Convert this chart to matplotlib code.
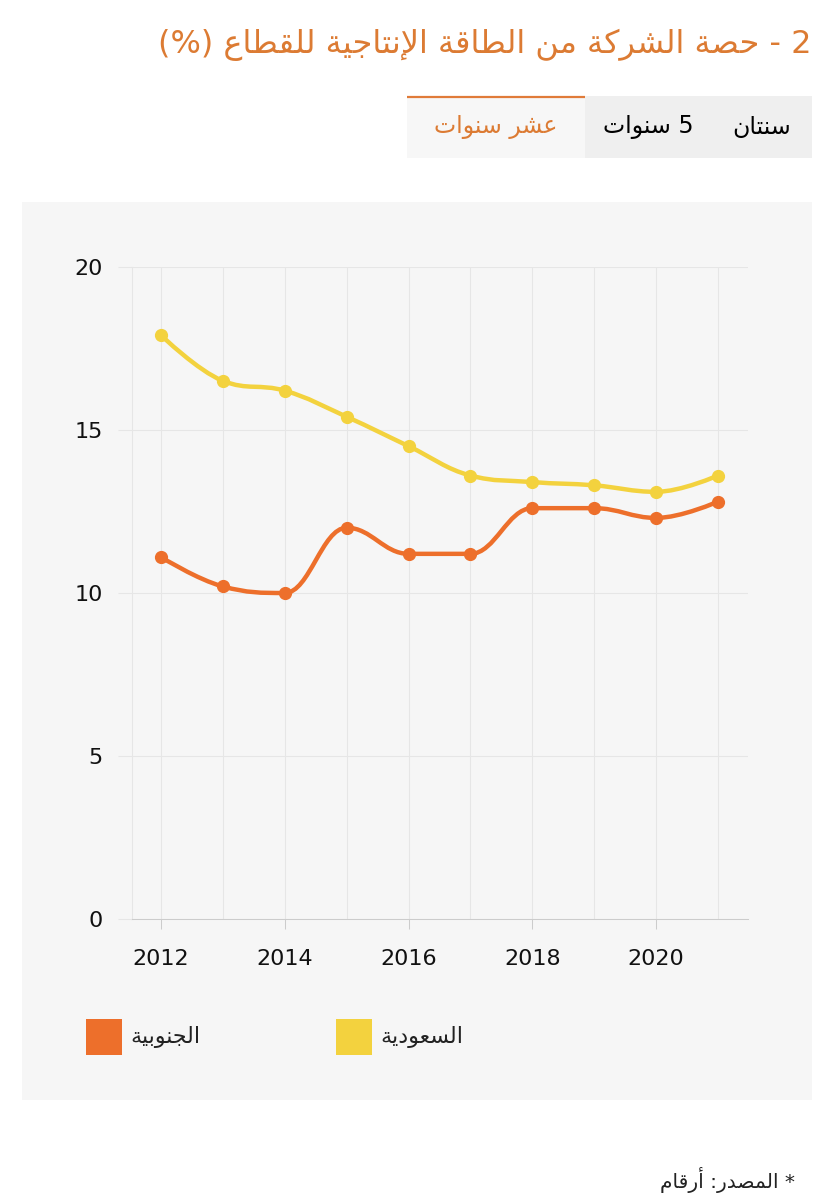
import numpy as np
import matplotlib
matplotlib.use('Agg')
import matplotlib.pyplot as plt
from matplotlib.patches import Rectangle, PathPatch
from matplotlib.path import Path

##########################################
## Data
##########################################
years = [2012, 2013, 2014, 2015, 2016, 2017, 2018, 2019, 2020, 2021]
saudi = [17.9, 16.5, 16.2, 15.4, 14.5, 13.6, 13.4, 13.3, 13.1, 13.6]
south = [11.1, 10.2, 10.0, 12.0, 11.2, 11.2, 12.6, 12.6, 12.3, 12.8]
series_names = ['الجنوبية', 'السعودية']
y_ticks = [0, 5, 10, 15, 20]
x_ticks = [2012, 2014, 2016, 2018, 2020]

title = '2 - حصة الشركة من الطاقة الإنتاجية للقطاع (%)'
tabs = ['عشر سنوات', '5 سنوات', 'سنتان']
source = '* المصدر: أرقام'

orange = '#ed6f2b'
yellow = '#f3d23e'
title_color = '#dc7b33'

##########################################
## Minimal Arabic shaping (matplotlib does no shaping / bidi)
##########################################
forms = {
    'ا': ('\uFE8D', '\uFE8E', None, None),
    'أ': ('\uFE83', '\uFE84', None, None),
    'إ': ('\uFE87', '\uFE88', None, None),
    'ب': ('\uFE8F', '\uFE90', '\uFE91', '\uFE92'),
    'ة': ('\uFE93', '\uFE94', None, None),
    'ت': ('\uFE95', '\uFE96', '\uFE97', '\uFE98'),
    'ج': ('\uFE9D', '\uFE9E', '\uFE9F', '\uFEA0'),
    'ح': ('\uFEA1', '\uFEA2', '\uFEA3', '\uFEA4'),
    'د': ('\uFEA9', '\uFEAA', None, None),
    'ر': ('\uFEAD', '\uFEAE', None, None),
    'س': ('\uFEB1', '\uFEB2', '\uFEB3', '\uFEB4'),
    'ش': ('\uFEB5', '\uFEB6', '\uFEB7', '\uFEB8'),
    'ص': ('\uFEB9', '\uFEBA', '\uFEBB', '\uFEBC'),
    'ط': ('\uFEC1', '\uFEC2', '\uFEC3', '\uFEC4'),
    'ع': ('\uFEC9', '\uFECA', '\uFECB', '\uFECC'),
    'ق': ('\uFED5', '\uFED6', '\uFED7', '\uFED8'),
    'ك': ('\uFED9', '\uFEDA', '\uFEDB', '\uFEDC'),
    'ل': ('\uFEDD', '\uFEDE', '\uFEDF', '\uFEE0'),
    'م': ('\uFEE1', '\uFEE2', '\uFEE3', '\uFEE4'),
    'ن': ('\uFEE5', '\uFEE6', '\uFEE7', '\uFEE8'),
    'و': ('\uFEED', '\uFEEE', None, None),
    'ي': ('\uFEF1', '\uFEF2', '\uFEF3', '\uFEF4'),
}
lam_alef = {'ا': ('\uFEFB', '\uFEFC'), 'أ': ('\uFEF7', '\uFEF8'), 'إ': ('\uFEF9', '\uFEFA')}


def ar(text):
    # merge lam + alef into ligature tokens
    tokens = []
    i = 0
    while i < len(text):
        c = text[i]
        if c == 'ل' and i + 1 < len(text) and text[i + 1] in lam_alef:
            tokens.append(('LA', text[i + 1]))
            i += 2
        else:
            tokens.append(('C', c))
            i += 1

    def is_ar(t):
        return t[0] == 'LA' or t[1] in forms

    def dual(t):
        return t[0] == 'C' and t[1] in forms and forms[t[1]][2] is not None

    out = []
    for k, t in enumerate(tokens):
        prev_j = k > 0 and dual(tokens[k - 1]) and is_ar(t)
        if t[0] == 'LA':
            out.append(lam_alef[t[1]][1 if prev_j else 0])
            continue
        c = t[1]
        if c not in forms:
            out.append(c)
            continue
        next_j = dual(t) and k + 1 < len(tokens) and is_ar(tokens[k + 1])
        f = forms[c]
        if prev_j and next_j:
            out.append(f[3])
        elif prev_j:
            out.append(f[1])
        elif next_j:
            out.append(f[2])
        else:
            out.append(f[0])
    s = ''.join(out)[::-1]
    return s.translate(str.maketrans('()', ')('))


##########################################
## Highcharts-like spline path
##########################################
def spline_path(x, y, smoothing=1.5):
    x = np.asarray(x, float)
    y = np.asarray(y, float)
    n = len(x)
    verts = [(x[0], y[0])]
    codes = [Path.MOVETO]
    left = [None] * n
    right = [None] * n
    right[0] = (x[0], y[0])
    left[-1] = (x[-1], y[-1])
    d = smoothing + 1
    for i in range(1, n - 1):
        lcx = (smoothing * x[i] + x[i - 1]) / d
        lcy = (smoothing * y[i] + y[i - 1]) / d
        rcx = (smoothing * x[i] + x[i + 1]) / d
        rcy = (smoothing * y[i] + y[i + 1]) / d
        if rcx != lcx:
            corr = (rcy - lcy) * (rcx - x[i]) / (rcx - lcx) + y[i] - rcy
            lcy += corr
            rcy += corr
        if lcy > y[i - 1] and lcy > y[i]:
            lcy = max(y[i - 1], y[i]); rcy = 2 * y[i] - lcy
        elif lcy < y[i - 1] and lcy < y[i]:
            lcy = min(y[i - 1], y[i]); rcy = 2 * y[i] - lcy
        if rcy > y[i + 1] and rcy > y[i]:
            rcy = max(y[i + 1], y[i]); lcy = 2 * y[i] - rcy
        elif rcy < y[i + 1] and rcy < y[i]:
            rcy = min(y[i + 1], y[i]); lcy = 2 * y[i] - rcy
        left[i] = (lcx, lcy)
        right[i] = (rcx, rcy)
    for i in range(1, n):
        verts += [right[i - 1], left[i], (x[i], y[i])]
        codes += [Path.CURVE4] * 3
    return Path(verts, codes)


##########################################
## Figure
##########################################
plt.rcParams['font.family'] = ['DejaVu Sans']
fig = plt.figure(figsize=(8.34, 12), dpi=100)
fig.patch.set_facecolor('white')

# background / layout layer in pixel coords
bg = fig.add_axes([0, 0, 1, 1])
bg.set_xlim(0, 834)
bg.set_ylim(1200, 0)
bg.axis('off')

bg.text(812, 45, ar(title), color=title_color, fontsize=23, ha='right', va='center')

# tabs
bg.add_patch(Rectangle((585, 96), 227, 62, color='#efefef', lw=0))
bg.add_patch(Rectangle((407, 96), 178, 62, color='#f7f7f7', lw=0))
bg.plot([407, 585], [96.5, 96.5], color='#e07b39', lw=1.6, solid_capstyle='butt')
bg.text(496, 127, ar(tabs[0]), color=title_color, fontsize=17, ha='center', va='center')
bg.text(648, 127, ar(tabs[1]), color='black', fontsize=17, ha='center', va='center')
bg.text(762, 127, ar(tabs[2]), color='black', fontsize=17, ha='center', va='center')

# chart panel
bg.add_patch(Rectangle((22, 202), 790, 898, color='#f6f6f6', lw=0))

# legend
for x0, name, col in zip([86, 336], series_names, [orange, yellow]):
    bg.add_patch(Rectangle((x0, 1019), 36, 36, color=col, lw=0))
    bg.text(x0 + 44, 1037, ar(name), fontsize=16, ha='left', va='center', color='#222222')

# source
bg.text(795, 1180, ar(source), fontsize=14.5, ha='right', va='center', color='#222222')

# chart axes
ax = fig.add_axes([132 / 834, 1 - 919.3 / 1200, 616 / 834, (919.3 - 266.7) / 1200])
ax.set_facecolor('none')
ax.set_xlim(2011.531, 2021.485)
ax.set_ylim(0, 20)

ax.set_yticks(y_ticks)
ax.set_xticks(x_ticks)
ax.set_xticks(years, minor=True)
ax.grid(axis='x', which='both', color='#e6e6e6', lw=0.75)
ax.grid(axis='y', which='major', color='#e6e6e6', lw=0.75)
ax.set_axisbelow(True)
ax.tick_params(axis='y', length=10, color='#e6e6e6', width=0.75, pad=11, labelsize=16, labelcolor='#111111')
ax.tick_params(axis='x', which='major', length=7.5, color='#cccccc', width=0.75, pad=14, labelsize=16, labelcolor='#111111')
ax.tick_params(axis='x', which='minor', length=0)
for s in ['top', 'right']:
    ax.spines[s].set_visible(False)
ax.spines['left'].set_color('#e6e6e6')
ax.spines['left'].set_linewidth(0.75)
ax.spines['bottom'].set_color('#cccccc')
ax.spines['bottom'].set_linewidth(0.75)

for vals, col in zip([saudi, south], [yellow, orange]):
    ax.add_patch(PathPatch(spline_path(years, vals), fill=False, edgecolor=col, lw=3.2, capstyle='round', zorder=3))
    ax.plot(years, vals, 'o', ms=8.5, color=col, zorder=4)

plt.savefig('out.png', dpi=100)
